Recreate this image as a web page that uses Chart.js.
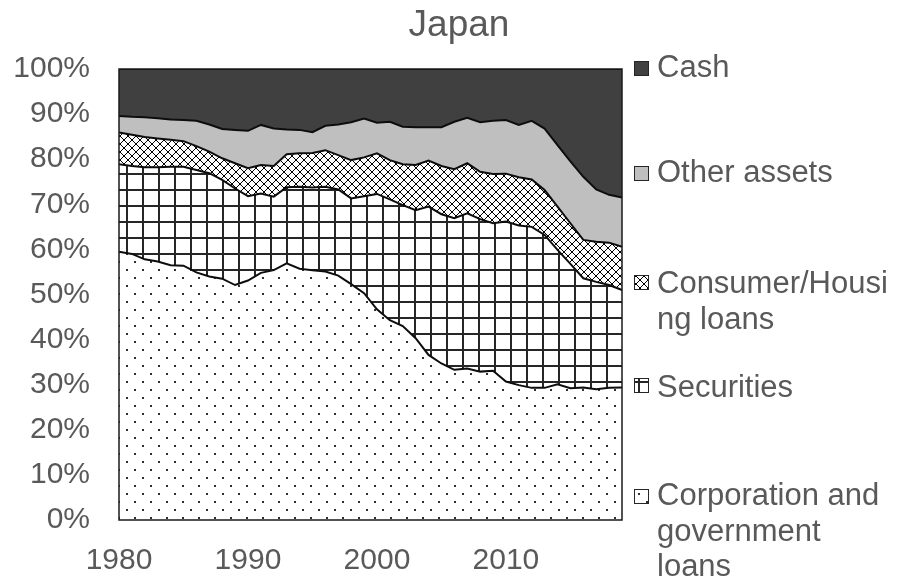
<!DOCTYPE html>
<html>
<head>
<meta charset="utf-8">
<style>
  html, body { margin: 0; padding: 0; background: #ffffff; }
  #wrap { width: 901px; height: 587px; position: relative; }
</style>
<script src="https://cdn.jsdelivr.net/npm/chart.js@4"></script>
</head>
<body>
<div id="wrap"><canvas id="c" width="901" height="587"></canvas></div>
<script>
const chartTitle = "Japan";
const years = [];
for (let y = 1980; y <= 2019; y++) years.push(String(y));

const corporationLoans = [59.5, 59.0, 57.8, 57.3, 56.5, 56.4, 54.9, 54.0, 53.5, 52.1,
  53.1, 54.8, 55.4, 56.9, 55.7, 55.4, 55.1, 54.2, 52.3, 50.3,
  46.7, 44.3, 43.0, 40.3, 36.6, 34.7, 33.3, 33.6, 32.9, 33.1,
  30.7, 29.9, 29.3, 29.3, 30.1, 29.2, 29.4, 29.0, 29.3, 29.4];
const securities = [19.4, 19.5, 20.4, 20.9, 21.8, 21.9, 22.7, 22.9, 21.9, 21.4,
  18.7, 17.6, 16.3, 16.9, 18.2, 18.3, 18.8, 19.1, 19.0, 21.5,
  25.6, 26.8, 26.8, 28.4, 32.9, 33.1, 33.6, 34.4, 33.8, 32.7,
  35.5, 35.4, 35.7, 33.9, 29.8, 27.6, 24.2, 23.8, 22.8, 21.6];
const consumerHousingLoans = [7.0, 6.9, 6.7, 6.4, 6.0, 5.7, 5.3, 4.8, 4.8, 5.6,
  6.2, 6.3, 6.8, 7.3, 7.4, 7.7, 8.1, 7.6, 8.5, 8.6,
  9.0, 8.7, 9.1, 10.0, 10.2, 10.7, 10.9, 11.1, 10.5, 10.9,
  10.6, 10.7, 10.5, 10.0, 9.6, 9.0, 8.5, 8.9, 9.4, 9.6];
const otherAssets = [3.7, 4.0, 4.4, 4.5, 4.5, 4.7, 5.6, 6.0, 6.5, 7.4,
  8.3, 8.9, 8.3, 5.5, 5.2, 4.6, 5.4, 6.8, 8.4, 8.6,
  6.8, 8.5, 8.3, 8.4, 7.4, 8.6, 10.5, 10.1, 11.0, 11.8,
  11.9, 11.6, 13.0, 13.6, 13.6, 13.7, 14.0, 11.6, 10.6, 10.9];
const cash = [10.4, 10.6, 10.7, 10.9, 11.2, 11.3, 11.5, 12.3, 13.3, 13.5,
  13.7, 12.4, 13.2, 13.4, 13.5, 14.0, 12.6, 12.3, 11.8, 11.0,
  11.9, 11.7, 12.8, 12.9, 12.9, 12.9, 11.7, 10.8, 11.8, 11.5,
  11.3, 12.4, 11.5, 13.2, 16.9, 20.5, 23.9, 26.7, 27.9, 28.5];

const yTicks = [0, 10, 20, 30, 40, 50, 60, 70, 80, 90, 100];
const xTickLabels = ["1980", "1990", "2000", "2010"];

const legendItems = [
  { lines: ["Cash"], key: "cash" },
  { lines: ["Other assets"], key: "other" },
  { lines: ["Consumer/Housi", "ng loans"], key: "consumer" },
  { lines: ["Securities"], key: "securities" },
  { lines: ["Corporation and", "government", "loans"], key: "corp" }
];

// ---- patterns ----
function makePattern(w, h, draw) {
  const cv = document.createElement('canvas');
  cv.width = w; cv.height = h;
  const g = cv.getContext('2d');
  draw(g);
  return document.getElementById('c').getContext('2d').createPattern(cv, 'repeat');
}
const dotPattern = makePattern(16, 16, g => {
  g.fillStyle = '#ffffff'; g.fillRect(0, 0, 16, 16);
  g.fillStyle = '#303030';
  g.fillRect(6, 5, 2, 2);
  g.fillRect(14, 13, 2, 2);
});
const gridPattern = makePattern(16, 16, g => {
  g.fillStyle = '#ffffff'; g.fillRect(0, 0, 16, 16);
  g.fillStyle = '#262626';
  g.fillRect(14, 0, 2, 16);
  g.fillRect(0, 13, 16, 2);
});
const crossPattern = makePattern(8, 8, g => {
  g.fillStyle = '#ffffff'; g.fillRect(0, 0, 8, 8);
  g.fillStyle = '#000000';
  for (let i = 0; i < 8; i++) {
    g.fillRect(i, i, 1, 1);
    g.fillRect(7 - i, i, 1, 1);
  }
});
const fills = {
  corp: dotPattern,
  securities: gridPattern,
  consumer: crossPattern,
  other: '#bfbfbf',
  cash: '#404040'
};

const textColor = '#595959';
const fontFamily = '"Liberation Sans", Arial, Helvetica, sans-serif';

const decorPlugin = {
  id: 'decor',
  afterDatasetsDraw(chart) {
    const { ctx, chartArea: a } = chart;
    ctx.save();
    ctx.strokeStyle = '#1a1a1a';
    ctx.lineWidth = 1.5;
    ctx.strokeRect(a.left, a.top, a.right - a.left, a.bottom - a.top);
    ctx.restore();
  },
  afterDraw(chart) {
    const ctx = chart.ctx;
    ctx.save();
    // title
    ctx.fillStyle = textColor;
    ctx.font = '37px ' + fontFamily;
    ctx.textAlign = 'center';
    ctx.textBaseline = 'alphabetic';
    ctx.fillText(chartTitle, 459, 36);
    // legend
    const baselines = [77, 182, 293, 397, 505];
    const markerTops = [61, 166, 275, 378, 489];
    ctx.font = '31px ' + fontFamily;
    ctx.textAlign = 'left';
    legendItems.forEach((it, i) => {
      ctx.fillStyle = fills[it.key];
      ctx.fillRect(634.5, markerTops[i] + 0.5, 14, 14);
      ctx.strokeStyle = '#262626';
      ctx.lineWidth = 1;
      ctx.strokeRect(634.5, markerTops[i] + 0.5, 14, 14);
      ctx.fillStyle = textColor;
      it.lines.forEach((ln, j) => {
        ctx.fillText(ln, 657, baselines[i] + j * 35.5);
      });
    });
    ctx.restore();
  }
};

function ds(label, data, key, fill) {
  return {
    label, data,
    backgroundColor: fills[key],
    borderColor: '#0d0d0d',
    borderWidth: 2,
    pointRadius: 0,
    pointHoverRadius: 0,
    tension: 0,
    fill
  };
}

new Chart(document.getElementById('c'), {
  type: 'line',
  data: {
    labels: years,
    datasets: [
      ds('Corporation and government loans', corporationLoans, 'corp', 'origin'),
      ds('Securities', securities, 'securities', '-1'),
      ds('Consumer/Housing loans', consumerHousingLoans, 'consumer', '-1'),
      ds('Other assets', otherAssets, 'other', '-1'),
      ds('Cash', cash, 'cash', '-1')
    ]
  },
  options: {
    responsive: false,
    animation: false,
    layout: { padding: { top: 69, right: 279, left: 0, bottom: 0 } },
    plugins: {
      legend: { display: false },
      title: { display: false },
      tooltip: { enabled: false }
    },
    scales: {
      x: {
        type: 'category',
        offset: false,
        grid: { display: false, drawTicks: false },
        border: { display: false },
        ticks: {
          autoSkip: false,
          maxRotation: 0,
          minRotation: 0,
          padding: 23,
          color: textColor,
          font: { size: 30, family: fontFamily },
          callback: function (v, i) {
            const l = this.getLabelForValue(v);
            return xTickLabels.includes(l) ? l : '';
          }
        },
        afterFit(scale) { scale.height = 67; }
      },
      y: {
        stacked: true,
        min: 0,
        max: 100,
        grid: { display: false, drawTicks: false },
        border: { display: false },
        ticks: {
          stepSize: 10,
          padding: 29,
          color: textColor,
          font: { size: 30, family: fontFamily },
          callback: v => yTicks.includes(v) ? v + '%' : ''
        },
        afterFit(scale) { scale.width = 119; }
      }
    }
  },
  plugins: [decorPlugin]
});
</script>
</body>
</html>
